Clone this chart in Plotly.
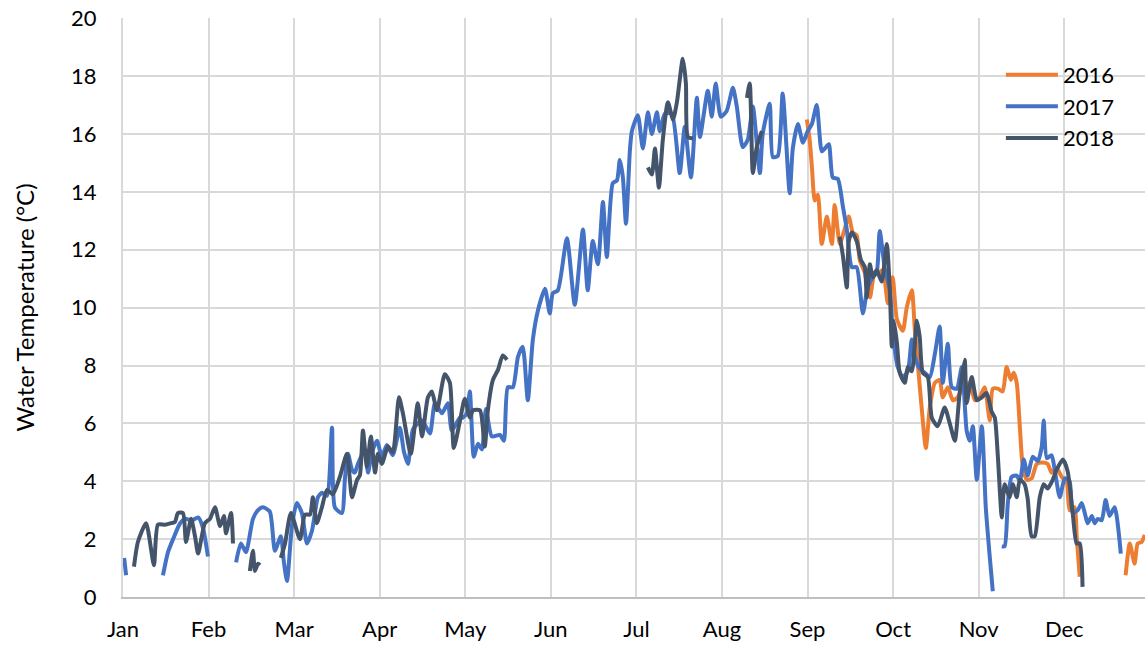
import plotly.graph_objects as go

# day of year (None = gap in the record) and water temperature in degC
day_2016 = [243.1, 244.1, 244.9, 245.9, 247.0, 248.4, 250.2, 252.0, 253.0, 254.8, 256.2, 258.0, 259.4,
            260.8, 261.9, 263.7, 265.5, 267.2, 268.7, 270.1, 271.9, 273.6, 275.1, 277.2, 278.6, 280.4,
            281.5, 282.5, 283.9, 285.4, 286.8, 288.6, 290.3, 291.4, 293.2, 295.0, 296.7, 298.5, 301.0,
            302.8, 304.5, 306.3, 308.1, 309.2, 311.0, 312.7, 314.1, 315.6, 316.6, 317.7, 318.8, 319.8,
            321.3, 323.0, 324.8, 326.9, 328.7, 330.1, 331.9, 333.7, 335.5, 336.5, 338.3, 339.0, 340.1,
            None, 356.4, 357.9, 359.6, 360.7, 362.1, 363.2]
temp_2016 = [16.5, 15.8, 14.85, 13.7, 13.9, 12.2, 13.15, 12.2, 13.55, 12.2, 12.6, 13.15, 12.6,
             12.5, 11.65, 11.2, 10.35, 11.2, 11.2, 11.3, 10.15, 11.05, 9.6, 9.2, 10.0, 10.6,
             9.2, 8.1, 6.55, 5.15, 6.55, 7.4, 7.5, 6.9, 7.25, 6.8, 6.9, 7.2, 7.4,
             6.8, 6.9, 7.25, 6.1, 7.2, 7.2, 7.1, 7.95, 7.5, 7.75, 7.4, 5.9, 4.55,
             4.05, 4.1, 4.6, 4.65, 4.6, 4.3, 4.45, 4.15, 3.95, 3.0, 3.1, 2.1, 0.7,
             None, 0.75, 1.85, 1.15, 1.85, 1.9, 2.15]

day_2017 = [0.4, 1.1, None,
            14.2, 16.0, 17.8, 20.3, 22.0, 24.5, 26.7, 28.4, 30.2, None,
            40.2, 41.9, 43.7, 46.2, 48.0, 49.8, 52.2, 54.0, 56.1, 57.2, 58.3, 60.1, 61.8, 63.6,
            65.4, 67.2, 69.3, 70.7, 72.5, 74.3, 75.3, 77.8, 78.9, 80.0, 81.4, 82.4, 83.5, 86.0,
            87.1, 88.5, 90.3, 92.0, 93.8, 95.9, 98.4, 99.9, 101.3, 103.1, 106.3, 109.1, 110.9,
            113.4, 115.5, 116.9, 119.8, 120.8, 122.2, 123.3, 124.7, 126.2, 127.6, 129.0, 131.1,
            134.0, 135.4, 136.8, 138.6, 140.4, 142.1, 143.9, 145.7, 147.5, 150.0, 151.7, 152.8,
            154.6, 157.8, 160.6, 163.5, 165.2, 167.0, 168.8, 170.6, 172.0, 174.1, 175.6, 176.6,
            177.7, 178.8, 180.2, 180.9, 183.0, 184.8, 186.6, 188.0, 189.8, 190.8, 192.6, 195.1,
            197.9, 199.7, 201.9, 204.0, 205.1, 207.9, 209.3, 210.7, 212.5, 214.6, 216.8, 218.2,
            220.3, 222.1, 223.9, 226.4, 227.4, 229.9, 231.0, 232.8, 234.5, 237.0, 238.1, 239.9,
            241.7, 243.4, 244.9, 246.6, 248.4, 249.5, 250.9, 252.3, 254.1, 255.9, 257.3, 259.1,
            260.8, 263.0, 264.7, 266.5, 267.9, 269.0, 270.8, 272.6, 273.6, 275.4, 277.2, 279.0,
            280.4, 281.5, 283.2, 285.0, 286.8, 288.6, 290.3, 291.4, 293.2, 294.6, 296.4, 298.2,
            299.9, 301.0, 302.1, 303.5, 305.3, 306.7, 308.1, 309.2, None,
            312.4, 313.4, 314.5, 315.9, 317.7, 318.8, 320.2, 321.6, 323.4, 325.2, 326.6, 327.3,
            328.4, 330.1, 331.2, 333.0, 334.8, 336.5, 337.6, 339.4, 340.8, 341.9, 342.9, 344.4,
            345.4, 346.5, 347.9, 349.3, 350.7, 352.5, 354.7]
temp_2017 = [1.35, 0.75, None,
             0.75, 1.55, 2.0, 2.55, 2.7, 2.65, 2.75, 2.4, 1.4, None,
             1.2, 1.85, 1.55, 2.7, 3.0, 3.1, 2.95, 1.6, 2.1, 1.2, 0.55, 2.5, 3.25, 2.9,
             1.85, 2.3, 3.45, 3.6, 3.5, 5.85, 3.1, 2.9, 4.1, 4.95, 4.4, 4.3, 4.6, 5.1,
             4.3, 5.0, 5.4, 4.85, 5.25, 4.9, 5.85, 5.0, 4.6, 5.8, 6.1, 5.65, 6.7,
             6.35, 6.7, 5.75, 6.2, 6.2, 6.35, 7.1, 4.85, 5.3, 5.1, 6.5, 5.55,
             5.6, 5.4, 7.25, 7.25, 8.3, 8.65, 6.8, 8.9, 9.9, 10.65, 9.8, 10.5,
             10.6, 12.4, 10.1, 12.7, 10.6, 12.3, 11.5, 13.65, 11.75, 14.3, 14.4, 15.1,
             14.5, 12.9, 15.45, 16.1, 16.65, 15.5, 16.75, 16.0, 16.75, 16.1, 16.7, 16.7,
             14.65, 16.25, 14.5, 17.25, 15.9, 17.5, 16.6, 17.75, 16.6, 16.8, 17.6, 16.95,
             15.55, 15.8, 16.95, 14.65, 16.0, 17.05, 15.2, 15.25, 17.4, 13.95, 15.5, 16.35,
             15.7, 16.1, 16.35, 17.0, 15.4, 15.5, 15.65, 14.5, 14.45, 13.5, 12.7, 11.4,
             11.4, 9.8, 10.7, 11.05, 11.2, 12.65, 11.35, 10.6, 9.2, 7.95, 7.6, 7.8,
             8.9, 8.3, 7.9, 7.75, 7.6, 8.4, 9.35, 7.4, 8.75, 7.25, 7.2, 7.95,
             5.75, 5.4, 5.9, 4.05, 5.9, 3.1, 1.4, 0.2, None,
             1.75, 1.75, 3.2, 4.15, 4.2, 4.0, 4.75, 4.2, 4.85, 4.7, 5.2, 6.1,
             4.8, 4.9, 4.4, 3.45, 4.1, 4.0, 2.9, 3.0, 3.25, 2.9, 2.55, 2.8,
             2.55, 2.7, 2.65, 3.35, 2.8, 3.1, 1.5]

day_2018 = [3.9, 5.3, 8.2, 11.0, 12.4, 14.9, 17.1, 18.5, 19.5, 21.3, 22.4, 24.2, 25.6, 26.7,
            29.1, 30.9, 32.7, 34.5, 35.9, 36.6, 38.4, 39.1, None,
            45.1, 46.2, 46.9, 48.0, 48.7, None,
            56.1, 57.6, 59.7, 62.9, 64.7, 66.5, 67.5, 68.9, 70.7, 72.5, 74.6, 77.1, 79.6, 81.4,
            83.2, 84.2, 85.3, 86.7, 88.1, 89.6, 90.6, 92.0, 94.2, 95.9, 98.1, 99.5, 102.3, 104.8,
            106.3, 108.4, 109.8, 111.6, 114.4, 116.2, 117.6, 119.8, 121.5, 123.3, 124.4, 126.9,
            128.6, 129.7, 131.5, 133.3, 135.0, 136.5, None,
            186.6, 188.0, 189.1, 190.5, 191.9, 193.7, 195.5, 196.9, 199.0, 200.1, 200.8, 202.6, None,
            221.8, 222.8, 223.9, 225.3, 227.1, None,
            254.8, 255.9, 257.3, 258.0, 259.1, 260.8, 262.3, 263.7, 264.4, 265.5, 266.5, 267.9,
            269.7, 271.5, 272.6, 273.3, 274.0, 275.1, 276.1, 277.9, 279.0, 280.4, 282.2, 283.2,
            284.3, 286.1, 287.5, 289.6, 292.1, 293.9, 295.7, 297.4, 299.2, 299.9, 301.7, 303.5,
            305.3, 307.0, 308.8, 309.9, 311.0, 312.4, 313.4, 315.2, 316.3, 317.7, 318.8, 320.5,
            321.6, 323.0, 324.1, 325.9, 327.3, 328.7, 330.5, 331.9, 334.1, 335.8, 337.6, 339.0,
            340.1, 341.1]
temp_2018 = [1.05, 1.9, 2.55, 1.1, 2.5, 2.5, 2.55, 2.6, 2.9, 2.9, 1.9, 2.7, 2.1, 1.5,
             2.55, 2.7, 3.1, 2.45, 2.8, 2.2, 2.9, 1.85, None,
             0.9, 1.6, 0.9, 1.15, 1.1, None,
             1.35, 1.85, 2.9, 2.0, 2.85, 2.85, 3.45, 2.55, 3.1, 3.7, 3.55, 4.15, 4.95, 3.45,
             4.05, 4.2, 5.75, 4.5, 5.55, 4.3, 4.95, 4.6, 5.2, 5.0, 6.9, 6.35, 4.95, 6.7,
             5.55, 6.9, 7.1, 6.45, 7.7, 7.4, 5.15, 6.1, 6.85, 6.2, 6.45, 6.45,
             5.2, 6.45, 7.5, 7.85, 8.35, 8.2, None,
             14.85, 14.6, 15.5, 14.15, 15.8, 17.1, 16.5, 17.1, 18.6, 17.75, 15.9, 15.85, None,
             17.25, 17.75, 14.65, 15.55, 16.1, None,
             12.45, 11.8, 10.7, 12.3, 12.6, 12.3, 11.65, 11.4, 10.35, 11.5, 11.05, 11.3,
             10.9, 12.2, 10.6, 8.65, 9.55, 8.8, 7.75, 7.4, 7.95, 7.8, 9.55, 9.0,
             7.75, 7.6, 6.2, 5.9, 6.55, 6.0, 5.4, 7.05, 8.2, 6.7, 7.6, 6.8,
             6.9, 7.05, 6.4, 6.2, 4.85, 2.75, 3.9, 3.45, 3.9, 3.45, 4.05, 3.9,
             3.4, 2.1, 2.1, 3.45, 3.9, 3.75, 4.05, 4.4, 4.75, 4.35, 2.9, 1.85,
             1.85, 0.35]

months = ['Jan', 'Feb', 'Mar', 'Apr', 'May', 'Jun', 'Jul', 'Aug', 'Sep', 'Oct', 'Nov', 'Dec']
month_start = [i * 365 / 12 for i in range(12)]

series = [('2016', day_2016, temp_2016, '#ED7D31'),
          ('2017', day_2017, temp_2017, '#4472C4'),
          ('2018', day_2018, temp_2018, '#44546A')]

fig = go.Figure()
for name, x, y, c in series:
    assert len(x) == len(y), name
    fig.add_trace(go.Scatter(x=x, y=y, name=name, mode='lines', connectgaps=False,
                             legendgroup=name,
                             line=dict(color=c, width=4, shape='spline', smoothing=0.6)))

font = 'Lato, "Open Sans", sans-serif'
fig.update_layout(
    width=1145, height=645,
    paper_bgcolor='white', plot_bgcolor='white',
    margin=dict(l=123, r=0, t=18, b=48),
    font=dict(family=font, size=22, color='black'),
    legend=dict(x=0.859, y=0.938, xanchor='left', yanchor='top', bgcolor='rgba(0,0,0,0)',
                font=dict(size=22), itemwidth=52, tracegroupgap=0),
)
fig.update_xaxes(range=[0, 363.3], tickvals=month_start, ticktext=months,
                 showgrid=True, gridcolor='#d9d9d9', gridwidth=2,
                 showline=True, linecolor='#bfbfbf', linewidth=2,
                 zeroline=False, ticks='', ticklabelstandoff=12, automargin=False)
fig.update_yaxes(range=[0, 20.01], tickvals=list(range(0, 21, 2)), showgrid=True,
                 gridcolor='#d9d9d9', gridwidth=2,
                 showline=True, linecolor='#d9d9d9', linewidth=2, zeroline=False,
                 ticks='', ticklabelstandoff=20, automargin=False, ticklabeloverflow='allow',
                 title=dict(text='Water Temperature (°C)', standoff=30, font=dict(size=24)))

# drop the default 8px page margin so the figure fills the window exactly
fig.write_html("out.html", config={'displayModeBar': False},
               post_script="document.body.style.margin='0px';")
